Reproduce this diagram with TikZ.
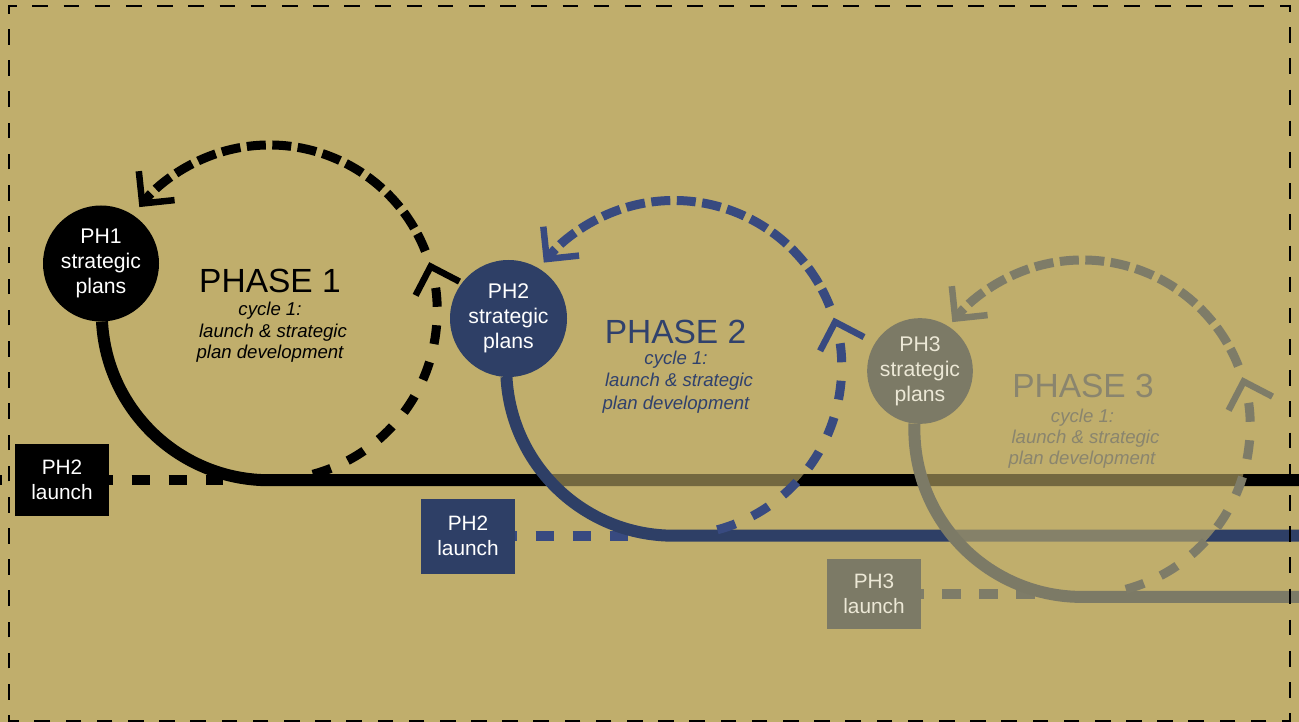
\documentclass[tikz,border=0pt]{standalone}
\usepackage{fontspec}
\setmainfont{Liberation Sans}
\usetikzlibrary{arrows.meta,calc}

\definecolor{khaki}{HTML}{C0AE6C}
\definecolor{navy}{HTML}{2E3F66}
\definecolor{navydash}{HTML}{384A80}
\definecolor{navytext}{HTML}{30416C}
\definecolor{slate}{HTML}{7C7A66}
\definecolor{slatedash}{HTML}{7E7C68}
\definecolor{slatetext}{HTML}{8A856E}
\definecolor{cream}{HTML}{ECE8D6}

\newcommand\phplansfont{\fontsize{21.2pt}{25pt}\selectfont}
\newcommand\phlaunchfont{\fontsize{20.8pt}{25pt}\selectfont}
\newcommand\phtitlefont{\fontsize{33.5pt}{40pt}\selectfont}
\newcommand\phnotefont{\fontsize{18.6pt}{22pt}\selectfont\itshape}

\pgfdeclarelayer{paper}
\pgfdeclarelayer{track1}
\pgfdeclarelayer{veil2}
\pgfdeclarelayer{track2}
\pgfdeclarelayer{veil3}
\pgfdeclarelayer{track3}
\pgfsetlayers{paper,track1,veil2,track2,veil3,track3,main}

\tikzset{
  plan/.style={circle, inner sep=0pt, outer sep=0pt, align=center, font=\phplansfont},
  launchbox/.style={rectangle, inner sep=0pt, outer sep=0pt, align=center,
    font=\phlaunchfont, minimum width=94pt},
  track/.style={line width=12pt},
  feed/.style={line width=10pt, dash pattern=on 18.5pt off 18.5pt},
  barb/.style={-{Straight Barb[length=23pt,width=46pt,line width=6.5pt]}},
  loopback/.style={line width=9pt, dash pattern=on 19pt off 18.5pt, barb},
  loopreturn/.style={line width=9pt, dash pattern=on 19pt off 6.5pt, barb},
  phasetitle/.style={anchor=base, inner sep=0pt, font=\phtitlefont},
  phasenote/.style={anchor=base, inner sep=0pt, font=\phnotefont},
  veil/.style={fill=khaki, fill opacity=0.6},
  frame/.style={line width=2pt, dash pattern=on 15.6pt off 15.59pt},
}

\begin{document}
\begin{tikzpicture}[x=1pt,y=1pt]
\useasboundingbox (0,0) rectangle (1299,-722);
\begin{pgfonlayer}{paper}
  \fill[khaki] (0,0) rectangle (1299,-722);
\end{pgfonlayer}

% cycle centres
\coordinate (c1) at (269.5,-312.5);
\coordinate (c2) at (674,-368);
\coordinate (c3) at (1082.5,-427.5);

% ---------- phase 1 ----------
\node[plan, fill=black, text=white, minimum size=116pt] (n1) at (101,-263.5) {PH1\\strategic\\plans};
\node[launchbox, fill=black, text=white, minimum height=72pt] (l1) at (62,-480) {PH2\\launch};
\node[phasetitle] (t1) at (270,-292) {PHASE 1};
\node[phasenote] (a1) at (270,-315) {cycle 1:};
\node[phasenote] (b1) at (273,-337) {launch \& strategic};
\node[phasenote] (d1) at (270,-358) {plan development};
\coordinate (w1) at (0,-480);
\coordinate (e1) at (223,-480);
\begin{pgfonlayer}{track1}
  \draw[feed, black, dash phase=16.5pt] (w1) -- (l1.center) -- (e1);
  \draw[track, black] (n1.271) arc[start angle=183, end angle=270, radius=167.5] -- ++(1100,0);
  \draw[loopback, black] ($(c1)+(-75:167.5)$) arc[start angle=-75, end angle=17.5, radius=167.5];
  \draw[loopreturn, black] ($(c1)+(21.5:167.5)$) arc[start angle=21.5, end angle=141, radius=167.5];
\end{pgfonlayer}

% ---------- phase 2 ----------
\begin{pgfonlayer}{veil2}
  \fill[veil] (c2) circle[radius=167.5];
\end{pgfonlayer}
\node[plan, fill=navy, text=white, minimum size=117pt] (n2) at (508.5,-318.5) {PH2\\strategic\\plans};
\node[launchbox, fill=navy, text=white, minimum height=75pt] (l2) at (468,-536) {PH2\\launch};
\node[phasetitle, text=navytext] (t2) at (675.5,-343) {PHASE 2};
\node[phasenote, text=navytext] (a2) at (676,-364) {cycle 1:};
\node[phasenote, text=navytext] (b2) at (679,-386) {launch \& strategic};
\node[phasenote, text=navytext] (d2) at (676,-409) {plan development};
\coordinate (e2) at (629,-536);
\begin{pgfonlayer}{track2}
  \draw[feed, navydash, dash phase=6.5pt] (l2.center) -- (e2);
  \draw[track, navy] (n2.268) arc[start angle=183, end angle=270, radius=167.5] -- ++(700,0);
  \draw[loopback, navydash] ($(c2)+(-75:167.5)$) arc[start angle=-75, end angle=17.5, radius=167.5];
  \draw[loopreturn, navydash] ($(c2)+(21.5:167.5)$) arc[start angle=21.5, end angle=141, radius=167.5];
\end{pgfonlayer}

% ---------- phase 3 ----------
\begin{pgfonlayer}{veil3}
  \fill[veil] (c3) circle[radius=167.5];
\end{pgfonlayer}
\node[plan, fill=slate, text=cream, minimum size=101.6pt] (n3) at (920,-371) {PH3\\strategic\\plans};
\node[launchbox, fill=slate, text=cream, minimum height=70pt] (l3) at (874,-594) {PH3\\launch};
\node[phasetitle, text=slatetext] (t3) at (1083,-397.5) {PHASE 3};
\node[phasenote, text=slatetext] (a3) at (1082.5,-422) {cycle 1:};
\node[phasenote, text=slatetext] (b3) at (1085.5,-443.5) {launch \& strategic};
\node[phasenote, text=slatetext] (d3) at (1082,-464.5) {plan development};
\coordinate (e3) at (1034.5,-594);
\begin{pgfonlayer}{track3}
  \draw[feed, slatedash, dash phase=6pt] (l3.center) -- (e3);
  \draw[track, slate] (n3.264.5) arc[start angle=178, end angle=270, radius=167.5] -- ++(400,0);
  \draw[loopback, slatedash] ($(c3)+(-75:167.5)$) arc[start angle=-75, end angle=17.5, radius=167.5];
  \draw[loopreturn, slatedash] ($(c3)+(21.5:167.5)$) arc[start angle=21.5, end angle=141, radius=167.5];
\end{pgfonlayer}

% dashed frame
\draw[frame] (9,-13.8) -- (9,-6) -- (1290,-6) -- (1290,-721) -- (9,-721) -- cycle;
\end{tikzpicture}
\end{document}
